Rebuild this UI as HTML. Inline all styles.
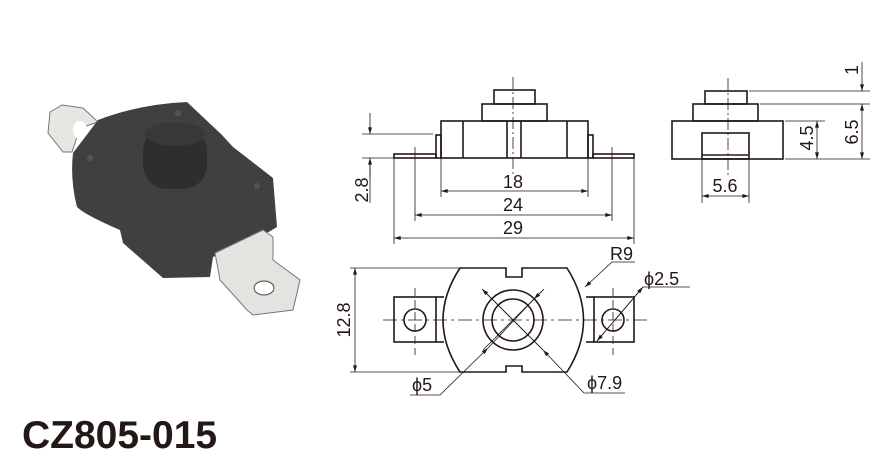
<!DOCTYPE html>
<html><head><meta charset="utf-8"><style>
html,body{margin:0;padding:0;background:#fff;width:885px;height:456px;overflow:hidden}
svg{display:block}
text{font-family:"Liberation Sans",Arial,sans-serif;fill:#231815}
</style></head><body>
<svg width="885" height="456" viewBox="0 0 885 456" xmlns="http://www.w3.org/2000/svg">
<defs>
<marker id="a" viewBox="0 0 10 6" refX="10" refY="3" markerWidth="10" markerHeight="4" orient="auto-start-reverse" markerUnits="userSpaceOnUse"><path d="M0,0L10,3L0,6z" fill="#231815"/></marker>
</defs>
<!-- photo -->
<g>
<polygon points="50,112 62,105 83,108 98,122 80,128 72,152 63,152 48,133" fill="#e6e6e3" stroke="#777" stroke-width="1"/>
<ellipse cx="80" cy="130" rx="7" ry="9" fill="#fff"/>
<path d="M98,120 Q140,104 187,102 L222,135 L233,147 L273,178 L277,227 L267,233 L213,257 L210,277 L163,278 L123,243 L120,230 Q85,215 77,207 Q70,180 73,153 Z" fill="#404040"/>
<rect x="143" y="127" width="64" height="62" rx="24" fill="#2e2e2e"/>
<ellipse cx="175" cy="134" rx="30" ry="12" fill="#383838"/>
<circle cx="90" cy="158" r="3" fill="#555"/><circle cx="178" cy="113" r="3" fill="#555"/><circle cx="257" cy="186" r="3" fill="#555"/>
<polygon points="215,253 263,230 273,237 273,260 300,280 293,310 253,315 247,310 220,280" fill="#e3e3e0" stroke="#777" stroke-width="1"/>
<ellipse cx="264" cy="288" rx="10" ry="7" fill="#fff" stroke="#444"/>
</g>
<text x="22" y="448" font-size="39" font-weight="bold">CZ805-015</text>

<g stroke="#231815" fill="none" stroke-width="1.6">
<rect x="494" y="90" width="41" height="14"/>
<rect x="482" y="104" width="65" height="17"/>
<rect x="441" y="121" width="147" height="37"/>
<line x1="463" y1="121" x2="463" y2="158"/><line x1="507" y1="121" x2="507" y2="158"/>
<line x1="521" y1="121" x2="521" y2="158"/><line x1="567" y1="121" x2="567" y2="158"/>
<rect x="436" y="135" width="5" height="23"/><rect x="588" y="135" width="5" height="23"/>
<rect x="394" y="154" width="42" height="4"/><rect x="593" y="154" width="41" height="4"/>
<rect x="705" y="91" width="42" height="13"/>
<rect x="693" y="104" width="65" height="17"/>
<rect x="672" y="121" width="111" height="38"/>
<rect x="702" y="133" width="47" height="26"/>
<line x1="702" y1="155" x2="749" y2="155"/>
<path d="M460,268 L506,268 L506,277 L522,277 L522,268 L567,268 Q600,320 567,372 L522,372 L522,366 L506,366 L506,372 L460,372 Q426,320 460,268 Z"/>
<circle cx="513" cy="320" r="30"/><circle cx="513" cy="320" r="21"/>
<rect x="394" y="297" width="42" height="45"/><line x1="436" y1="297" x2="444" y2="297"/><line x1="436" y1="342" x2="444" y2="342"/>
<rect x="594" y="297" width="40" height="45"/><line x1="586" y1="297" x2="594" y2="297"/><line x1="586" y1="342" x2="594" y2="342"/>
<circle cx="415" cy="320" r="11"/><circle cx="613" cy="320" r="11"/>
</g>

<g stroke="#231815" fill="none" stroke-width="0.8">
<line x1="513" y1="77" x2="513" y2="175" stroke-dasharray="12,3,2,3"/>
<line x1="728" y1="78" x2="728" y2="175" stroke-dasharray="12,3,2,3"/>
<line x1="383" y1="320" x2="650" y2="320" stroke-dasharray="14,4,3,4"/>
<line x1="415" y1="288" x2="415" y2="355" stroke-dasharray="8,4"/>
<line x1="613" y1="288" x2="613" y2="355" stroke-dasharray="8,4"/>
<line x1="483" y1="290" x2="543" y2="350"/><line x1="543" y1="290" x2="483" y2="350"/>
<line x1="362" y1="134" x2="433" y2="134"/><line x1="362" y1="158" x2="394" y2="158"/>
<line x1="370" y1="113" x2="370" y2="134" marker-end="url(#a)"/>
<line x1="370" y1="178" x2="370" y2="158" marker-end="url(#a)"/>
<line x1="370" y1="158" x2="370" y2="203"/>
<line x1="441" y1="158" x2="441" y2="197"/><line x1="588" y1="158" x2="588" y2="197"/>
<line x1="441" y1="191" x2="588" y2="191" marker-start="url(#a)" marker-end="url(#a)"/>
<line x1="415" y1="147" x2="415" y2="221"/><line x1="612" y1="147" x2="612" y2="221"/>
<line x1="415" y1="215" x2="612" y2="215" marker-start="url(#a)" marker-end="url(#a)"/>
<line x1="394" y1="158" x2="394" y2="244"/><line x1="634" y1="158" x2="634" y2="244"/>
<line x1="394" y1="238" x2="634" y2="238" marker-start="url(#a)" marker-end="url(#a)"/>
<line x1="749" y1="91" x2="870" y2="91"/><line x1="760" y1="104" x2="870" y2="104"/>
<line x1="785" y1="121" x2="825" y2="121"/><line x1="785" y1="159" x2="870" y2="159"/>
<line x1="862" y1="62" x2="862" y2="91" marker-end="url(#a)"/>
<line x1="862" y1="104" x2="862" y2="159" marker-start="url(#a)" marker-end="url(#a)"/>
<line x1="817" y1="121" x2="817" y2="159" marker-start="url(#a)" marker-end="url(#a)"/>
<line x1="702" y1="159" x2="702" y2="203"/><line x1="749" y1="159" x2="749" y2="203"/>
<line x1="702" y1="196" x2="749" y2="196" marker-start="url(#a)" marker-end="url(#a)"/>
<line x1="350" y1="268" x2="460" y2="268"/><line x1="350" y1="372" x2="460" y2="372"/>
<line x1="355" y1="268" x2="355" y2="372" marker-start="url(#a)" marker-end="url(#a)"/>
<polyline points="635,262 612,262 585,287" marker-end="url(#a)"/>
<polyline points="690,287 643,287 597,341" marker-end="url(#a)"/>
<line x1="643" y1="287" x2="597" y2="341" marker-start="url(#a)"/>
<polyline points="410,395 440,395 488,348" marker-end="url(#a)"/>
<line x1="534" y1="299" x2="488" y2="348"/>
<line x1="534" y1="299" x2="544" y2="289" marker-start="url(#a)"/>
<polyline points="625,393 584,393 543,350" marker-end="url(#a)"/>
<line x1="482" y1="289" x2="543" y2="350" marker-start="url(#a)"/>
</g>

<g font-size="18">
<text x="513" y="188" text-anchor="middle">18</text>
<text x="513" y="211" text-anchor="middle">24</text>
<text x="513" y="234" text-anchor="middle">29</text>
<text transform="translate(368,190) rotate(-90)" text-anchor="middle">2.8</text>
<text x="725" y="192" text-anchor="middle">5.6</text>
<text transform="translate(813,138) rotate(-90)" text-anchor="middle">4.5</text>
<text transform="translate(858,132) rotate(-90)" text-anchor="middle">6.5</text>
<text transform="translate(858,70) rotate(-90)" text-anchor="middle">1</text>
<text transform="translate(350,320) rotate(-90)" text-anchor="middle">12.8</text>
<text x="610" y="260">R9</text>
<text x="644" y="285">ϕ2.5</text>
<text x="412" y="391">ϕ5</text>
<text x="587" y="389">ϕ7.9</text>
</g>
</svg>
</body></html>
